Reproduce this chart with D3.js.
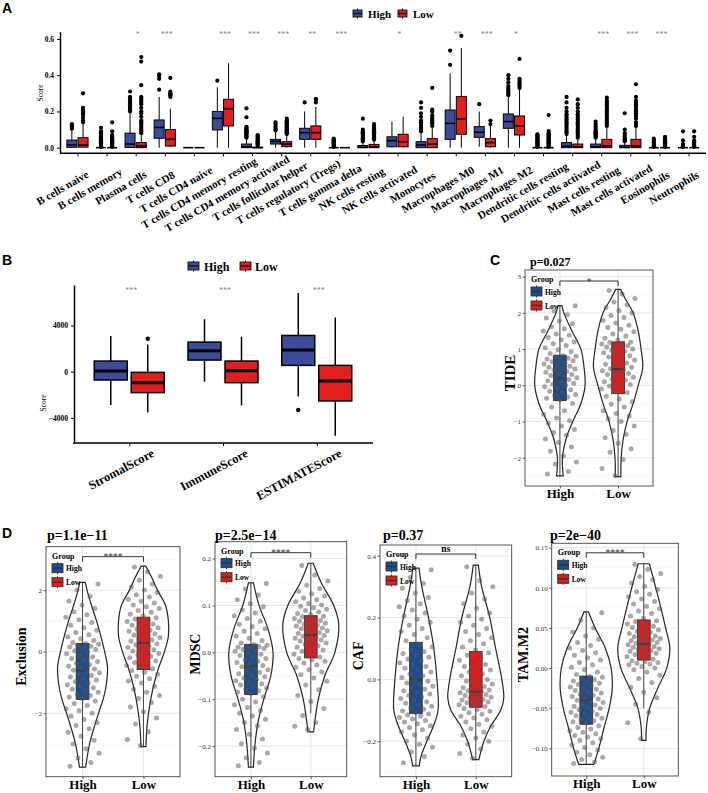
<!DOCTYPE html>
<html><head><meta charset="utf-8">
<script src="https://cdn.jsdelivr.net/npm/d3@7"></script>
<style>body{margin:0;background:#fff}svg{display:block}</style>
</head><body>
<svg id="fig" width="708" height="793"></svg>
<script>
// ===================== DATA =====================
const groups = ["High", "Low"];
// Panel A
const cellTypes = ["B cells naive","B cells memory","Plasma cells","T cells CD8","T cells CD4 naive","T cells CD4 memory resting","T cells CD4 memory activated","T cells follicular helper","T cells regulatory (Tregs)","T cells gamma delta","NK cells resting","NK cells activated","Monocytes","Macrophages M0","Macrophages M1","Macrophages M2","Dendritic cells resting","Dendritic cells activated","Mast cells resting","Mast cells activated","Eosinophils","Neutrophils"];
// [min, q1, median, q3, max]
const aHighStats = [[0,0.002,0.015,0.042,0.1],[0,0,0,0,0],[0,0.001,0.02,0.08,0.19],[0,0.052,0.112,0.153,0.28],[0,0,0,0,0],[0,0.098,0.162,0.2,0.333],[0,0,0.005,0.02,0.05],[0,0.02,0.035,0.046,0.085],[0,0.046,0.083,0.107,0.2],[0,0,0,0,0],[0,0,0.002,0.012,0.03],[0,0.005,0.039,0.06,0.144],[0,0,0.015,0.033,0.08],[0,0.046,0.134,0.208,0.41],[0.005,0.057,0.085,0.116,0.2],[0,0.107,0.144,0.186,0.28],[0,0,0,0,0],[0,0,0.008,0.028,0.07],[0,0,0.005,0.02,0.05],[0,0,0.002,0.013,0.03],[0,0,0,0,0],[0,0,0,0,0]];
const aLowStats = [[0,0.003,0.015,0.055,0.13],[0,0,0,0,0],[0,0,0.01,0.028,0.07],[0.005,0.009,0.046,0.1,0.215],[0,0,0,0,0],[0,0.12,0.215,0.267,0.466],[0,0,0,0.003,0.008],[0,0.006,0.02,0.033,0.07],[0,0.046,0.083,0.12,0.226],[0,0,0,0,0],[0,0,0.005,0.018,0.04],[0,0.005,0.033,0.074,0.171],[0,0,0.02,0.05,0.11],[0,0.074,0.157,0.282,0.55],[0,0.005,0.028,0.05,0.12],[0,0.07,0.12,0.175,0.32],[0,0,0,0,0],[0,0,0.005,0.02,0.05],[0,0,0.01,0.046,0.11],[0,0,0.01,0.046,0.11],[0,0,0,0,0],[0,0,0,0,0]];
const aHighOut = [[0.105,0.11,0.115,0.12,0.125,0.13],[0.005,0.01,0.015,0.02,0.025,0.03,0.035,0.04,0.045,0.05,0.055,0.06,0.065,0.07,0.08,0.09,0.11],[0.2,0.21,0.22,0.23,0.24,0.25,0.26,0.27,0.28,0.31],[0.32,0.38,0.395,0.405],[],[0.37],[0.055,0.06,0.065,0.07,0.075,0.08,0.085,0.09,0.095,0.1,0.105,0.11,0.115,0.168,0.217],[0.095,0.1,0.11,0.12,0.13,0.14],[0.25],[0.005,0.01,0.015,0.02,0.025,0.03,0.035,0.04,0.045,0.05],[0.035,0.04,0.045,0.05,0.055,0.06,0.065,0.07,0.075,0.08,0.085,0.09,0.1,0.16],[],[0.09,0.1,0.11,0.12,0.13,0.14,0.15,0.17,0.19,0.22,0.25],[0.457,0.536],[0.24],[0.29,0.3,0.31,0.32,0.33,0.34,0.36,0.38,0.4],[0.005,0.01,0.015,0.02,0.025,0.03,0.035,0.04,0.045,0.05,0.055,0.06,0.065,0.07,0.074],[0.075,0.085,0.095,0.105,0.115,0.125,0.135,0.145,0.155,0.165,0.175,0.185,0.2,0.22,0.25,0.28],[0.055,0.06,0.065,0.07,0.075,0.08,0.085,0.09,0.1,0.11,0.12,0.13,0.144],[0.035,0.04,0.045,0.05,0.06,0.07,0.08,0.1,0.19],[0.005,0.01,0.015,0.02,0.03,0.04,0.05],[0.005,0.01,0.015,0.02,0.04,0.09]];
const aLowOut = [[0.14,0.15,0.165,0.18,0.19,0.2,0.21,0.22,0.3],[0.005,0.01,0.015,0.02,0.025,0.03,0.035,0.04,0.045,0.05,0.055,0.06,0.065,0.07,0.09,0.14],[0.08,0.09,0.1,0.11,0.12,0.13,0.14,0.15,0.17,0.19,0.2,0.22,0.24,0.25,0.26,0.27,0.28,0.345,0.475,0.5],[0.28,0.29,0.295,0.3,0.31,0.385],[],[],[0.012,0.018,0.024,0.03,0.036,0.042,0.048,0.054,0.06,0.066,0.07],[0.075,0.08,0.085,0.09,0.095,0.1,0.105,0.11,0.115,0.12,0.125,0.13,0.135,0.14,0.145,0.15,0.16],[0.25,0.265,0.27],[],[0.045,0.05,0.055,0.06,0.065,0.07,0.075,0.08,0.085,0.09,0.1,0.11,0.12,0.13],[],[0.12,0.13,0.14,0.15,0.16,0.17,0.18,0.2,0.21,0.33],[0.617],[0.13,0.15],[0.33,0.34,0.35,0.36,0.37,0.38,0.49],[0.005,0.01,0.015,0.02,0.025,0.03,0.035,0.04,0.045,0.05,0.055,0.06,0.065,0.07,0.075,0.08,0.092,0.18],[0.055,0.065,0.075,0.085,0.095,0.105,0.115,0.125,0.135,0.145,0.155,0.165,0.175,0.185,0.2,0.22,0.24,0.267],[0.12,0.13,0.14,0.15,0.16,0.17,0.18,0.19,0.2,0.21,0.22,0.23,0.24,0.25,0.26,0.276],[0.12,0.13,0.14,0.16,0.17,0.18,0.19,0.2,0.21,0.22,0.23,0.24,0.25,0.26,0.28,0.35],[0.005,0.01,0.015,0.02,0.025,0.03,0.035,0.04,0.045,0.05,0.06],[0.005,0.01,0.015,0.02,0.03,0.04,0.06,0.09]];
const aSig = ["","","*","***","","***","***","***","**","***","","*","","**","***","*","","","***","***","***",""];
const aTicks = [0, 0.2, 0.4, 0.6];

// Panel B
const bCategories = ["StromalScore","ImmuneScore","ESTIMATEScore"];
const bHighStats = [[-2880,-720,58,921,3080],[-863,1007,1813,2561,4547],[-2158,547,1870,3137,6820]];
const bLowStats = [[-3540,-1813,-950,-58,2360],[-2906,-950,86,921,3022],[-5554,-2532,-806,547,4690]];
const bHighOut = [[],[],[-3309]];
const bLowOut = [[2850],[],[]];
const bSig = ["***","***","***"];
const bTicks = [-4000, 0, 4000];

// Panel C (TIDE)
const tideHighStats = [-2.5,-0.42,0.2,0.83,2.2];
const tideLowStats = [-2.52,-0.23,0.45,1.2,2.65];
const tideHighDens = [[2.2,0.07],[2.0,0.14],[1.5,0.43],[1.0,0.75],[0.5,0.86],[0,0.9],[-0.5,0.75],[-1.0,0.46],[-1.4,0.25],[-2.0,0.09],[-2.5,0.12]];
const tideLowDens = [[2.65,0.09],[2.4,0.25],[2.0,0.54],[1.5,0.72],[1.0,0.82],[0.5,0.88],[0,0.72],[-0.5,0.54],[-1.0,0.32],[-1.5,0.18],[-2.0,0.11],[-2.52,0.1]];
const tideHigh = [-2.45,-2.38,-2.17,-2.12,-1.95,-1.82,-1.7,-1.58,-1.48,-1.38,-1.3,-1.22,-1.12,-1.05,-0.98,-0.9,-0.8,-0.7,-0.6,-0.5,-0.4,-0.36,-0.32,-0.28,-0.25,-0.2,-0.16,-0.12,-0.08,-0.04,0.0,0.03,0.06,0.1,0.13,0.16,0.19,0.21,0.24,0.27,0.3,0.33,0.36,0.39,0.42,0.45,0.48,0.5,0.53,0.56,0.59,0.62,0.65,0.68,0.7,0.73,0.75,0.78,0.8,0.82,0.88,0.93,0.98,1.04,1.1,1.15,1.2,1.26,1.32,1.38,1.42,1.5,1.56,1.62,1.7,1.78,1.86,1.95,2.05,2.2];
const tideLow = [-2.5,-2.3,-2.05,-1.85,-1.75,-1.6,-1.45,-1.35,-1.25,-1.12,-1.0,-0.92,-0.85,-0.78,-0.7,-0.6,-0.52,-0.45,-0.38,-0.3,-0.2,-0.15,-0.1,-0.06,-0.02,0.02,0.06,0.1,0.14,0.18,0.22,0.26,0.3,0.33,0.36,0.4,0.43,0.46,0.5,0.54,0.58,0.62,0.66,0.7,0.74,0.78,0.82,0.86,0.9,0.94,0.97,1.0,1.03,1.06,1.09,1.12,1.14,1.16,1.18,1.19,1.25,1.3,1.36,1.42,1.48,1.55,1.6,1.66,1.72,1.8,1.87,1.93,2.0,2.07,2.15,2.22,2.3,2.4,2.52,2.62];

// Panel D1 (Exclusion)
const exclHighStats = [-3.75,-1.55,-0.62,0.27,2.25];
const exclLowStats = [-3.08,-0.58,0.28,1.12,2.78];
const exclHighDens = [[2.25,0.1],[2.0,0.16],[1.5,0.32],[1.0,0.5],[0,0.79],[-0.5,0.89],[-1.0,0.86],[-1.5,0.75],[-2.0,0.57],[-2.5,0.4],[-3.0,0.25],[-3.75,0.11]];
const exclLowDens = [[2.78,0.08],[2.4,0.3],[2.0,0.5],[1.5,0.79],[1.0,0.89],[0.5,0.89],[0,0.75],[-0.5,0.55],[-1.0,0.39],[-1.5,0.27],[-2.0,0.18],[-2.5,0.12],[-3.08,0.09]];
const exclHigh = [-3.72,-3.6,-3.45,-3.3,-3.15,-3.0,-2.88,-2.75,-2.62,-2.5,-2.4,-2.3,-2.2,-2.1,-2.0,-1.92,-1.85,-1.75,-1.68,-1.6,-1.52,-1.47,-1.42,-1.37,-1.32,-1.27,-1.22,-1.17,-1.12,-1.07,-1.02,-0.97,-0.92,-0.87,-0.82,-0.77,-0.72,-0.68,-0.64,-0.6,-0.56,-0.52,-0.47,-0.42,-0.37,-0.32,-0.27,-0.22,-0.17,-0.12,-0.07,-0.02,0.03,0.07,0.11,0.15,0.18,0.21,0.24,0.26,0.3,0.36,0.42,0.48,0.55,0.62,0.7,0.78,0.86,0.95,1.04,1.12,1.2,1.3,1.4,1.52,1.65,1.8,2.0,2.2];
const exclLow = [-3.05,-2.85,-2.6,-2.35,-2.15,-1.95,-1.8,-1.65,-1.52,-1.42,-1.32,-1.22,-1.12,-1.02,-0.95,-0.88,-0.8,-0.73,-0.67,-0.61,-0.55,-0.5,-0.45,-0.4,-0.35,-0.3,-0.25,-0.2,-0.15,-0.1,-0.06,-0.02,0.02,0.06,0.1,0.14,0.18,0.22,0.26,0.3,0.34,0.38,0.42,0.46,0.5,0.54,0.58,0.62,0.66,0.7,0.74,0.78,0.82,0.86,0.9,0.94,0.98,1.02,1.06,1.1,1.16,1.22,1.28,1.34,1.4,1.46,1.52,1.58,1.64,1.7,1.78,1.85,1.92,2.0,2.1,2.2,2.32,2.45,2.6,2.75];

// Panel D2 (MDSC)
const mdscHighStats = [-0.245,-0.09,-0.03,0.017,0.148];
const mdscLowStats = [-0.13,-0.012,0.037,0.078,0.19];
const mdscHighDens = [[0.148,0.09],[0.1,0.29],[0.05,0.61],[0,0.79],[-0.05,0.71],[-0.1,0.46],[-0.15,0.25],[-0.2,0.14],[-0.245,0.09]];
const mdscLowDens = [[0.19,0.09],[0.15,0.36],[0.1,0.82],[0.06,1.0],[0,0.86],[-0.05,0.5],[-0.1,0.27],[-0.15,0.14],[-0.17,0.1]];
const mdscHigh = [-0.242,-0.235,-0.225,-0.215,-0.205,-0.195,-0.185,-0.175,-0.165,-0.157,-0.15,-0.143,-0.136,-0.13,-0.124,-0.118,-0.112,-0.106,-0.1,-0.095,-0.088,-0.085,-0.082,-0.079,-0.076,-0.073,-0.07,-0.067,-0.064,-0.061,-0.058,-0.055,-0.052,-0.049,-0.046,-0.043,-0.04,-0.037,-0.034,-0.031,-0.028,-0.025,-0.022,-0.019,-0.016,-0.013,-0.01,-0.007,-0.004,-0.001,0.002,0.004,0.006,0.008,0.01,0.011,0.012,0.013,0.015,0.016,0.02,0.025,0.03,0.035,0.04,0.045,0.05,0.055,0.06,0.066,0.072,0.078,0.084,0.09,0.097,0.104,0.112,0.122,0.135,0.147];
const mdscLow = [-0.165,-0.158,-0.15,-0.135,-0.12,-0.105,-0.092,-0.08,-0.07,-0.062,-0.055,-0.048,-0.042,-0.037,-0.032,-0.027,-0.023,-0.019,-0.016,-0.013,-0.01,-0.007,-0.004,-0.001,0.002,0.005,0.008,0.011,0.014,0.017,0.02,0.022,0.024,0.026,0.028,0.03,0.032,0.034,0.036,0.038,0.04,0.042,0.044,0.046,0.048,0.05,0.052,0.054,0.056,0.058,0.06,0.062,0.064,0.066,0.068,0.07,0.072,0.074,0.076,0.077,0.08,0.083,0.086,0.089,0.092,0.095,0.098,0.101,0.104,0.108,0.112,0.116,0.12,0.125,0.13,0.136,0.143,0.152,0.165,0.185];

// Panel D3 (CAF)
const cafHighStats = [-0.28,-0.11,0.0,0.12,0.36];
const cafLowStats = [-0.26,-0.09,-0.04,0.09,0.37];
const cafHighDens = [[0.36,0.11],[0.3,0.21],[0.2,0.45],[0.1,0.64],[0,0.75],[-0.1,0.79],[-0.15,0.63],[-0.2,0.39],[-0.25,0.18],[-0.28,0.12]];
const cafLowDens = [[0.37,0.09],[0.3,0.21],[0.2,0.5],[0.1,0.71],[0,0.93],[-0.06,1.0],[-0.1,0.89],[-0.15,0.54],[-0.2,0.29],[-0.26,0.11]];
const cafHigh = [-0.27,-0.25,-0.235,-0.22,-0.21,-0.2,-0.19,-0.18,-0.17,-0.163,-0.156,-0.15,-0.144,-0.138,-0.133,-0.128,-0.123,-0.119,-0.115,-0.112,-0.107,-0.102,-0.097,-0.092,-0.087,-0.082,-0.077,-0.072,-0.067,-0.062,-0.057,-0.052,-0.047,-0.042,-0.037,-0.032,-0.027,-0.022,-0.017,-0.012,-0.006,0.0,0.006,0.012,0.018,0.024,0.03,0.036,0.042,0.048,0.054,0.06,0.066,0.072,0.078,0.084,0.09,0.097,0.105,0.113,0.125,0.135,0.145,0.155,0.165,0.175,0.185,0.195,0.205,0.215,0.225,0.235,0.245,0.255,0.265,0.28,0.295,0.31,0.33,0.355];
const cafLow = [-0.255,-0.24,-0.225,-0.21,-0.2,-0.19,-0.18,-0.17,-0.16,-0.152,-0.145,-0.138,-0.131,-0.125,-0.119,-0.113,-0.108,-0.103,-0.098,-0.094,-0.088,-0.085,-0.082,-0.079,-0.076,-0.073,-0.07,-0.067,-0.064,-0.061,-0.058,-0.055,-0.052,-0.049,-0.046,-0.043,-0.04,-0.037,-0.034,-0.031,-0.027,-0.023,-0.019,-0.015,-0.01,-0.005,0.0,0.006,0.012,0.018,0.024,0.03,0.036,0.042,0.048,0.055,0.062,0.07,0.078,0.086,0.095,0.105,0.115,0.125,0.135,0.145,0.155,0.165,0.175,0.185,0.195,0.205,0.215,0.23,0.245,0.26,0.28,0.3,0.32,0.365];

// Panel D4 (TAM.M2)
const tamHighStats = [-0.12,-0.07,-0.04,-0.01,0.07];
const tamLowStats = [-0.05,0.01,0.03,0.06,0.13];
const tamHighDens = [[0.07,0.08],[0.05,0.32],[0.025,0.68],[0,0.89],[-0.025,0.93],[-0.05,0.82],[-0.075,0.63],[-0.1,0.45],[-0.12,0.27]];
const tamLowDens = [[0.13,0.2],[0.1,0.43],[0.075,0.61],[0.05,0.78],[0.025,0.93],[0,0.82],[-0.025,0.5],[-0.05,0.21],[-0.075,0.09],[-0.09,0.08]];
const tamHigh = [-0.119,-0.117,-0.114,-0.111,-0.108,-0.105,-0.102,-0.099,-0.096,-0.093,-0.09,-0.088,-0.086,-0.084,-0.082,-0.08,-0.078,-0.076,-0.074,-0.072,-0.0685,-0.067,-0.0655,-0.064,-0.0625,-0.061,-0.0595,-0.058,-0.0565,-0.055,-0.0535,-0.052,-0.0505,-0.049,-0.0475,-0.046,-0.0445,-0.043,-0.0415,-0.04,-0.0385,-0.037,-0.0355,-0.034,-0.0325,-0.031,-0.0295,-0.028,-0.0265,-0.025,-0.0235,-0.022,-0.0205,-0.019,-0.0175,-0.016,-0.0145,-0.013,-0.0115,-0.0105,-0.008,-0.005,-0.002,0.001,0.004,0.007,0.01,0.013,0.016,0.019,0.022,0.025,0.028,0.032,0.036,0.04,0.045,0.05,0.06,0.069];
const tamLow = [-0.088,-0.068,-0.055,-0.045,-0.037,-0.03,-0.024,-0.018,-0.013,-0.009,-0.005,-0.002,0.0,0.002,0.004,0.005,0.006,0.007,0.008,0.009,0.011,0.0125,0.014,0.0155,0.017,0.0185,0.02,0.021,0.022,0.023,0.024,0.025,0.026,0.027,0.028,0.029,0.03,0.031,0.032,0.033,0.034,0.035,0.036,0.037,0.038,0.039,0.04,0.0415,0.043,0.0445,0.046,0.0475,0.049,0.0505,0.052,0.0535,0.055,0.0565,0.058,0.059,0.062,0.065,0.068,0.071,0.074,0.077,0.08,0.083,0.086,0.089,0.092,0.095,0.098,0.102,0.106,0.11,0.114,0.118,0.123,0.129];

// ===================== DRAWING =====================
const svg = d3.select("#fig");
const SERIF = "'Liberation Serif','Times New Roman',serif";
const SANS = "'Liberation Sans',Arial,sans-serif";
const AB_COL = {High: "#3C4B9A", Low: "#E11F1F"};
const CD_COL = {High: "#1D4E8C", Low: "#E21B1D"};

function txt(g, x, y, s, size, opts = {}) {
  return g.append("text").attr("x", x).attr("y", y).text(s)
    .attr("font-family", opts.family || SERIF)
    .attr("font-weight", opts.weight || "bold")
    .attr("font-size", size)
    .attr("fill", opts.fill || "#000")
    .attr("text-anchor", opts.anchor || "start");
}

function legendKey(g, x, y, w, h, fill, stroke, stub) {
  g.append("line").attr("x1", x + w / 2).attr("x2", x + w / 2).attr("y1", y - stub).attr("y2", y + h + stub)
    .attr("stroke", stroke).attr("stroke-width", 1);
  g.append("rect").attr("x", x).attr("y", y).attr("width", w).attr("height", h)
    .attr("fill", fill).attr("stroke", stroke).attr("stroke-width", 0.9);
  g.append("line").attr("x1", x).attr("x2", x + w).attr("y1", y + h / 2).attr("y2", y + h / 2)
    .attr("stroke", stroke).attr("stroke-width", 1.3);
}

function styleAxis(sel, fs) {
  sel.select(".domain").attr("stroke", "#000").attr("stroke-width", 1.5);
  sel.selectAll(".tick line").attr("stroke", "#000").attr("stroke-width", 1);
  sel.selectAll(".tick text").attr("font-family", SERIF).attr("font-weight", "bold")
    .attr("font-size", fs).attr("fill", "#000");
}

function drawBox(g, cx, w, s, y, fill, sw, medW) {
  g.append("line").attr("x1", cx).attr("x2", cx).attr("y1", y(s[3])).attr("y2", y(s[4]))
    .attr("stroke", "#000").attr("stroke-width", sw);
  g.append("line").attr("x1", cx).attr("x2", cx).attr("y1", y(s[0])).attr("y2", y(s[1]))
    .attr("stroke", "#000").attr("stroke-width", sw);
  g.append("rect").attr("x", cx - w / 2).attr("y", y(s[3])).attr("width", w)
    .attr("height", Math.max(0, y(s[1]) - y(s[3])))
    .attr("fill", fill).attr("stroke", "#000").attr("stroke-width", sw);
  g.append("line").attr("x1", cx - w / 2).attr("x2", cx + w / 2).attr("y1", y(s[2])).attr("y2", y(s[2]))
    .attr("stroke", "#000").attr("stroke-width", medW);
}

// ---------- Panel A ----------
(function () {
  const g = svg.append("g");
  const x = d3.scalePoint().domain(cellTypes).range([60, 706]).padding(0.6);
  const y = d3.scaleLinear().domain([-0.031, 0.64]).range([153.3, 31.7]);
  const bw = 10, off = 5.6;
  const ax = g.append("g").attr("transform", "translate(60,0)")
    .call(d3.axisLeft(y).tickValues(aTicks).tickFormat(d3.format(".1f")).tickSize(3).tickSizeOuter(0));
  styleAxis(ax, 7.5);
  const bx = g.append("g").attr("transform", "translate(0,153.3)")
    .call(d3.axisBottom(x).tickSize(3).tickSizeOuter(0));
  styleAxis(bx, 10);
  bx.selectAll(".tick text").remove();
  bx.select(".domain").attr("d", "M60,0H706");
  g.selectAll(".xlabA").data(cellTypes).join("text")
    .attr("font-family", SERIF).attr("font-weight", "bold").attr("font-size", 11).text(d => d)
    .each(function (d) {
      const L = this.getComputedTextLength();
      d3.select(this).attr("x", -0.64 * L).attr("transform", `translate(${x(d) - 6},187) rotate(-30)`);
    });
  txt(g, 0, 0, "Score", 7.5, {weight: "normal", anchor: "middle"})
    .attr("transform", "translate(43,93) rotate(-90)").attr("x", null).attr("y", null);
  cellTypes.forEach((c, i) => {
    const cx = x(c);
    [["High", aHighStats[i], aHighOut[i], -off], ["Low", aLowStats[i], aLowOut[i], off]].forEach(([grp, s, outs, o]) => {
      drawBox(g, cx + o, bw, s, y, AB_COL[grp], 1, 1.6);
      g.selectAll(null).data(outs).join("circle").attr("cx", cx + o).attr("cy", d => y(d))
        .attr("r", 2.1).attr("fill", "#000");
    });
    if (aSig[i]) txt(g, cx + 2, 37, aSig[i], 8, {weight: "normal", fill: "#888", anchor: "middle"});
  });
  legendKey(g, 353, 10, 9, 7, AB_COL.High, "#111", 1.5);
  txt(g, 368, 18, "High", 11);
  legendKey(g, 398, 10, 9, 7, AB_COL.Low, "#111", 1.5);
  txt(g, 413, 18, "Low", 11);
  txt(g, 2, 13, "A", 14, {family: SANS});
})();

// ---------- Panel B ----------
(function () {
  const g = svg.append("g");
  const x = d3.scalePoint().domain(bCategories).range([73, 373]).padding(0.6);
  const y = d3.scaleLinear().domain([-6173, 7506]).range([443, 285]);
  const bw = 33, off = 18.5;
  const ax = g.append("g").attr("transform", "translate(74,0)")
    .call(d3.axisLeft(y).tickValues(bTicks).tickFormat(d3.format("d")).tickSize(3).tickSizeOuter(0));
  styleAxis(ax, 7.5);
  const bx = g.append("g").attr("transform", "translate(0,443)")
    .call(d3.axisBottom(x).tickSize(3).tickSizeOuter(0));
  styleAxis(bx, 12);
  bx.selectAll(".tick text").remove();
  bx.select(".domain").attr("d", "M73,0H373");
  g.selectAll(".xlabB").data(bCategories).join("text")
    .attr("transform", d => `translate(${x(d) + 26},456) rotate(-28)`)
    .attr("text-anchor", "end").attr("font-family", SERIF).attr("font-weight", "bold")
    .attr("font-size", 12.5).text(d => d);
  txt(g, 0, 0, "Score", 7.5, {weight: "normal", anchor: "middle"})
    .attr("transform", "translate(46,403) rotate(-90)").attr("x", null).attr("y", null);
  bCategories.forEach((c, i) => {
    const cx = x(c);
    [["High", bHighStats[i], bHighOut[i], -off], ["Low", bLowStats[i], bLowOut[i], off]].forEach(([grp, s, outs, o]) => {
      drawBox(g, cx + o, bw, s, y, AB_COL[grp], 1.5, 3);
      g.selectAll(null).data(outs).join("circle").attr("cx", cx + o).attr("cy", d => y(d))
        .attr("r", 2.2).attr("fill", "#000");
    });
    txt(g, cx + 2, 293, bSig[i], 8, {weight: "normal", fill: "#888", anchor: "middle"});
  });
  legendKey(g, 188, 262, 11, 8, AB_COL.High, "#111", 1.5);
  txt(g, 204, 271, "High", 12);
  legendKey(g, 240, 262, 11, 8, AB_COL.Low, "#111", 1.5);
  txt(g, 255, 271, "Low", 12);
  txt(g, 2, 265, "B", 14, {family: SANS});
})();

// ---------- Violin panels (C, D) ----------
function violinPanel(cfg) {
  const g = svg.append("g");
  const x = d3.scalePoint().domain(groups).range([cfg.left, cfg.right]).padding(0.6);
  const y = d3.scaleLinear().domain(cfg.domain).range([cfg.bottom, cfg.top]);
  const w = d3.scaleLinear().domain([0, 1]).range([0, 28]);
  g.selectAll(null).data(cfg.minor).join("line")
    .attr("x1", cfg.left).attr("x2", cfg.right).attr("y1", d => y(d)).attr("y2", d => y(d))
    .attr("stroke", "#F2F2F2").attr("stroke-width", 0.6);
  g.selectAll(null).data(cfg.ticks).join("line")
    .attr("x1", cfg.left).attr("x2", cfg.right).attr("y1", d => y(d)).attr("y2", d => y(d))
    .attr("stroke", "#E6E6E6").attr("stroke-width", 1);
  g.selectAll(null).data(groups).join("line")
    .attr("x1", d => x(d)).attr("x2", d => x(d)).attr("y1", cfg.top).attr("y2", cfg.bottom)
    .attr("stroke", "#E6E6E6").attr("stroke-width", 1);
  const ax = g.append("g").attr("transform", `translate(${cfg.left},0)`)
    .call(d3.axisLeft(y).tickValues(cfg.ticks).tickFormat(d3.format(cfg.fmt)).tickSize(2.5).tickPadding(1.5));
  ax.select(".domain").remove();
  ax.selectAll(".tick line").attr("stroke", "#333").attr("stroke-width", 0.8);
  ax.selectAll(".tick text").attr("font-family", SERIF).attr("font-size", 7).attr("fill", "#333");
  const bx = g.append("g").attr("transform", `translate(0,${cfg.bottom})`)
    .call(d3.axisBottom(x).tickSize(2.5).tickPadding(0));
  bx.select(".domain").remove();
  bx.selectAll(".tick line").attr("stroke", "#333").attr("stroke-width", 0.8);
  bx.selectAll(".tick text").attr("font-family", SERIF).attr("font-weight", "bold")
    .attr("font-size", cfg.xfs).attr("fill", "#000").attr("dy", "0.72em");
  const bw = 12.7;
  groups.forEach(grp => {
    const cx = x(grp);
    const area = d3.area().y(d => y(d[0])).x0(d => cx - w(d[1])).x1(d => cx + w(d[1]))
      .curve(d3.curveCatmullRom.alpha(0.5));
    g.append("path").attr("d", area(cfg.dens[grp])).attr("fill", "none")
      .attr("stroke", "#262626").attr("stroke-width", 1.2);
    const s = cfg.stats[grp];
    g.append("line").attr("x1", cx).attr("x2", cx).attr("y1", y(s[0])).attr("y2", y(s[4]))
      .attr("stroke", "#333").attr("stroke-width", 0.9);
    g.append("rect").attr("x", cx - bw / 2).attr("y", y(s[3])).attr("width", bw)
      .attr("height", y(s[1]) - y(s[3])).attr("fill", CD_COL[grp])
      .attr("stroke", "#333").attr("stroke-width", 0.9);
    g.append("line").attr("x1", cx - bw / 2).attr("x2", cx + bw / 2).attr("y1", y(s[2])).attr("y2", y(s[2]))
      .attr("stroke", "#3a3a3a").attr("stroke-width", 2);
    g.selectAll(null).data(cfg.pts[grp]).join("circle")
      .attr("cx", (d, i) => cx + ((i * 0.6180339 + (grp === "High" ? 0.13 : 0.41)) % 1 - 0.5) * 34)
      .attr("cy", d => y(d)).attr("r", 2.5)
      .attr("fill", "#5C5050").attr("fill-opacity", 0.5);
  });
  g.append("rect").attr("x", cfg.left).attr("y", cfg.top).attr("width", cfg.right - cfg.left)
    .attr("height", cfg.bottom - cfg.top).attr("fill", "none").attr("stroke", "#444").attr("stroke-width", 0.9);
  const by = cfg.top + cfg.brk;
  g.append("path").attr("d", `M${x("High")},${by + 5}V${by}H${x("Low")}V${by + 5}`)
    .attr("fill", "none").attr("stroke", "#000").attr("stroke-width", 0.8);
  if (cfg.sig === "ns") txt(g, (x("High") + x("Low")) / 2, by - 2, "ns", 9.5, {anchor: "middle"});
  else txt(g, (x("High") + x("Low")) / 2, by + 3.5, cfg.sig, 9.5, {weight: "normal", fill: "#333", anchor: "middle"});
  txt(g, cfg.titleX, cfg.titleY, cfg.title, cfg.titleSize);
  txt(g, 0, 0, cfg.ylab, cfg.ylabSize, {anchor: "middle"})
    .attr("transform", `translate(${cfg.ylabX},${(cfg.top + cfg.bottom) / 2 - 5}) rotate(-90)`)
    .attr("x", null).attr("y", null);
  const lx = cfg.left + 6, ly = cfg.top;
  txt(g, lx, ly + 12, "Group", 8);
  legendKey(g, lx, ly + 17, 11, 9, CD_COL.High, "#333", 1.5);
  txt(g, lx + 14, ly + 24.5, "High", 7.5);
  legendKey(g, lx, ly + 31, 11, 9, CD_COL.Low, "#333", 1.5);
  txt(g, lx + 14, ly + 38.5, "Low", 7.5);
}

violinPanel({left: 525, top: 270, right: 653, bottom: 486, domain: [-2.78, 3.185],
  ticks: [-2, -1, 0, 1, 2, 3], minor: [-2.5, -1.5, -0.5, 0.5, 1.5, 2.5], fmt: "d",
  stats: {High: tideHighStats, Low: tideLowStats}, dens: {High: tideHighDens, Low: tideLowDens},
  pts: {High: tideHigh, Low: tideLow}, sig: "*", brk: 11,
  title: "p=0.027", titleX: 530, titleY: 266, titleSize: 12,
  ylab: "TIDE", ylabX: 515, ylabSize: 15, xfs: 13});
violinPanel({left: 46, top: 546.7, right: 180, bottom: 776.7, domain: [-4.06, 3.41],
  ticks: [-2, 0, 2], minor: [-3, -1, 1, 3], fmt: "d",
  stats: {High: exclHighStats, Low: exclLowStats}, dens: {High: exclHighDens, Low: exclLowDens},
  pts: {High: exclHigh, Low: exclLow}, sig: "****", brk: 10,
  title: "p=1.1e\u221211", titleX: 47, titleY: 540, titleSize: 14,
  ylab: "Exclusion", ylabX: 26, ylabSize: 14, xfs: 13});
violinPanel({left: 215, top: 541.7, right: 346.7, bottom: 776.7, domain: [-0.2655, 0.236],
  ticks: [-0.2, -0.1, 0, 0.1, 0.2], minor: [-0.25, -0.15, -0.05, 0.05, 0.15], fmt: ".1f",
  stats: {High: mdscHighStats, Low: mdscLowStats}, dens: {High: mdscHighDens, Low: mdscLowDens},
  pts: {High: mdscHigh, Low: mdscLow}, sig: "****", brk: 11,
  title: "p=2.5e\u221214", titleX: 215, titleY: 540, titleSize: 14,
  ylab: "MDSC", ylabX: 200, ylabSize: 14, xfs: 13});
violinPanel({left: 380, top: 545, right: 511.7, bottom: 776.7, domain: [-0.315, 0.435],
  ticks: [-0.2, 0, 0.2, 0.4], minor: [-0.3, -0.1, 0.1, 0.3], fmt: ".1f",
  stats: {High: cafHighStats, Low: cafLowStats}, dens: {High: cafHighDens, Low: cafLowDens},
  pts: {High: cafHigh, Low: cafLow}, sig: "ns", brk: 9,
  title: "p=0.37", titleX: 383, titleY: 540, titleSize: 14,
  ylab: "CAF", ylabX: 363, ylabSize: 14, xfs: 13});
violinPanel({left: 551.7, top: 543.3, right: 678.3, bottom: 776, domain: [-0.1345, 0.1555],
  ticks: [-0.1, -0.05, 0, 0.05, 0.1, 0.15], minor: [-0.125, -0.075, -0.025, 0.025, 0.075, 0.125], fmt: ".2f",
  stats: {High: tamHighStats, Low: tamLowStats}, dens: {High: tamHighDens, Low: tamLowDens},
  pts: {High: tamHigh, Low: tamLow}, sig: "****", brk: 9.5,
  title: "p=2e\u221240", titleX: 550, titleY: 540, titleSize: 14,
  ylab: "TAM.M2", ylabX: 528, ylabSize: 14, xfs: 13});

txt(svg, 490, 265, "C", 14, {family: SANS});
txt(svg, 2, 538, "D", 14, {family: SANS});
</script>
</body></html>
